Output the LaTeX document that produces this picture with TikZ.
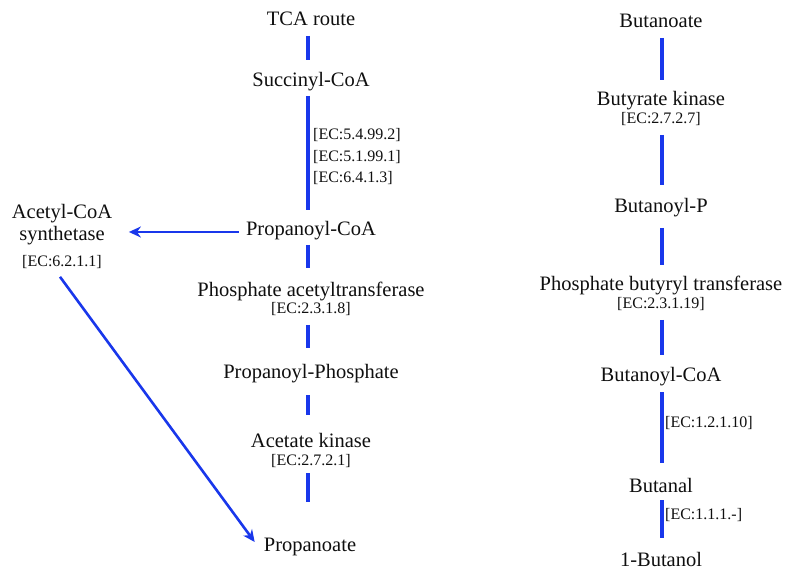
\documentclass[tikz,border=0pt]{standalone}
\usepackage{fontspec}
\setmainfont{Liberation Serif}
\usetikzlibrary{calc,arrows.meta}
\definecolor{pathblue}{RGB}{25,55,235}
\definecolor{txt}{RGB}{15,15,15}
\tikzset{
  met/.style={inner sep=0pt, text=txt, font=\fontsize{20.5}{24}\selectfont},
  ecl/.style={inner sep=0pt, text=txt, font=\fontsize{16}{21.5}\selectfont},
  conn/.style={draw=pathblue, line width=3.2pt},
  arr/.style={draw=pathblue, line width=2.6pt, -{Stealth[length=12pt,width=11pt]}}
}
\begin{document}
\begin{tikzpicture}[x=1pt,y=-1pt]
\useasboundingbox (0,0) rectangle (790,569);
% left column
\node[met] (tca) at (311,19) {TCA route};
\node[met] (succ) at (311,82) {Succinyl-CoA};
\node[ecl, anchor=west, align=left] (ec1) at (313,157) {{[EC:5.4.99.2]}\\{}{[EC:5.1.99.1]}\\{}{[EC:6.4.1.3]}};
\node[met] (propcoa) at (311,231) {Propanoyl-CoA};
\node[met] (pat) at (311,291) {Phosphate acetyltransferase};
\node[ecl] (patec) at (311,309) {[EC:2.3.1.8]};
\node[met] (propp) at (311,374) {Propanoyl-Phosphate};
\node[met] (ak) at (311,440) {Acetate kinase};
\node[ecl] (akec) at (311,461) {[EC:2.7.2.1]};
\node[met] (propan) at (310,547) {Propanoate};
% far left
\node[met] (acs1) at (62,214) {Acetyl-CoA};
\node[met] (acs2) at (62,236) {synthetase};
\node[ecl] (acsec) at (62,262) {[EC:6.2.1.1]};
% right column
\node[met] (buta) at (661,21) {Butanoate};
\node[met] (bk) at (661,101) {Butyrate kinase};
\node[ecl] (bkec) at (661,119) {[EC:2.7.2.7]};
\node[met] (bp) at (661,208) {Butanoyl-P};
\node[met] (pbt) at (661,285) {Phosphate butyryl transferase};
\node[ecl] (pbtec) at (661,304) {[EC:2.3.1.19]};
\node[met] (bcoa) at (661,377) {Butanoyl-CoA};
\node[ecl, anchor=west] (ec10) at (665,423) {[EC:1.2.1.10]};
\node[met] (bal) at (661,485) {Butanal};
\node[ecl, anchor=west] (ec11) at (665,515) {[EC:1.1.1.-]};
\node[met] (bol) at (661,559) {1-Butanol};
% left connectors
\draw[conn] ($(tca.center)+(-3,17)$) -- ($(succ.center)+(-3,-22)$);
\draw[conn] ($(succ.center)+(-3,14)$) -- ($(propcoa.center)+(-3,-21)$);
\draw[conn] ($(propcoa.center)+(-3,14)$) -- ($(pat.center)+(-3,-23)$);
\draw[conn] ($(patec.center)+(-3,16)$) -- ($(propp.center)+(-3,-26)$);
\draw[conn] ($(propp.center)+(-3,21)$) -- ($(ak.center)+(-3,-25)$);
\draw[conn] ($(akec.center)+(-3,12)$) -- ($(propan.center)+(-2,-45)$);
% arrows
\draw[arr] ($(propcoa.west)+(-7,1)$) -- ($(acs2.east)+(24,-4)$);
\draw[arr] ($(acsec.south)+(-2,8)$) -- ($(propan.west)+(-9,-5)$);
% right connectors
\draw[conn] ($(buta.center)+(1,17)$) -- ($(bk.center)+(1,-21)$);
\draw[conn] ($(bkec.center)+(1,16)$) -- ($(bp.center)+(1,-23)$);
\draw[conn] ($(bp.center)+(1,20)$) -- ($(pbt.center)+(1,-20)$);
\draw[conn] ($(pbtec.center)+(1,16)$) -- ($(bcoa.center)+(1,-22)$);
\draw[conn] ($(bcoa.center)+(1,15)$) -- ($(bal.center)+(1,-22)$);
\draw[conn] ($(bal.center)+(1,15)$) -- ($(bol.center)+(1,-21)$);
\end{tikzpicture}
\end{document}
